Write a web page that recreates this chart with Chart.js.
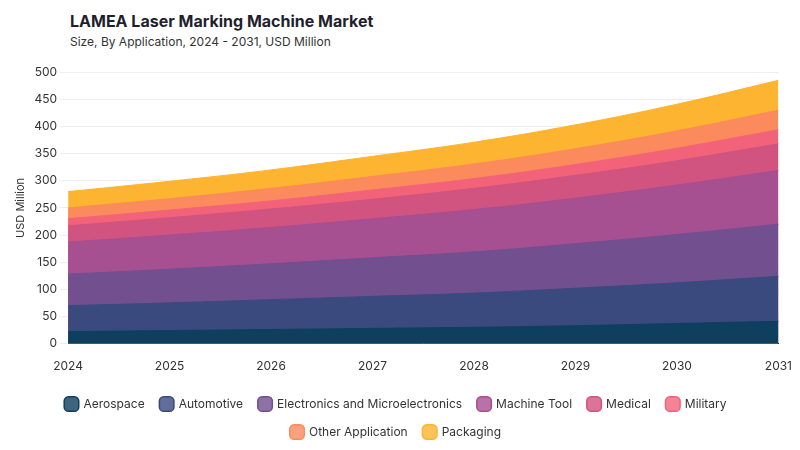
<!DOCTYPE html>
<html>
<head>
<meta charset="utf-8">
<script src="https://cdn.jsdelivr.net/npm/chart.js@4/dist/chart.umd.min.js"></script>
<style>
  body { margin: 0; background: #fff; font-family: Inter, sans-serif; }
  #wrap { position: relative; width: 800px; height: 450px; }
  h1 { position: absolute; left: 70px; top: 11px; margin: 0; font-size: 16px; font-weight: 700; color: #1f1f2e; }
  h2 { position: absolute; left: 70px; top: 34px; margin: 0; font-size: 12px; font-weight: 400; color: #333; }
  #box { position: absolute; left: 0; top: 62px; width: 800px; height: 386px; }
</style>
</head>
<body>
<div id="wrap">
  <h1>LAMEA Laser Marking Machine Market</h1>
  <h2>Size, By Application, 2024 - 2031, USD Million</h2>
  <div id="box"><canvas id="chart"></canvas></div>
</div>
<script>
const years = ["2024", "2025", "2026", "2027", "2028", "2029", "2030", "2031"];
const seriesNames = ["Aerospace", "Automotive", "Electronics and Microelectronics", "Machine Tool", "Medical", "Military", "Other Application", "Packaging"];
const aerospace   = [22, 24, 26, 28, 30, 33, 37, 41];
const automotive  = [48, 51, 55, 59, 63, 69, 75, 83];
const electronics = [58, 62, 66, 71, 76, 82, 89, 96];
const machineTool = [59, 63, 67, 72, 78, 84, 91, 99];
const medical     = [30, 32, 34, 36, 39, 42, 45, 49];
const military    = [13, 14, 15, 17, 18, 20, 23, 26];
const other       = [20, 21, 23, 25, 27, 29, 32, 36];
const packaging   = [30, 32, 34, 37, 40, 44, 49, 55];
const allValues = [aerospace, automotive, electronics, machineTool, medical, military, other, packaging];
const colors = ["#0e3f5e", "#3a4a7e", "#724f8f", "#a64f91", "#d1537f", "#f2637a", "#fb8a5c", "#fdb430"];

new Chart(document.getElementById("chart"), {
  type: "line",
  data: {
    labels: years,
    datasets: seriesNames.map((name, i) => ({
      label: name,
      data: allValues[i],
      fill: true,
      backgroundColor: colors[i],
      borderColor: colors[i],
      borderWidth: 1,
      pointRadius: 0,
      tension: 0.4
    }))
  },
  options: {
    responsive: true,
    maintainAspectRatio: false,
    animation: false,
    layout: { padding: { left: 10, right: 18, top: 4, bottom: 0 } },
    plugins: {
      legend: {
        position: "bottom",
        labels: {
          usePointStyle: true,
          pointStyle: "rectRounded",
          boxWidth: 14,
          boxHeight: 14,
          padding: 16,
          color: "#333",
          font: { family: "Inter", size: 12 },
          generateLabels: chart => chart.data.datasets.map((d, i) => ({
            text: d.label,
            fillStyle: d.backgroundColor + "cc",
            strokeStyle: d.backgroundColor,
            lineWidth: 1.5,
            pointStyle: "rectRounded",
            datasetIndex: i,
            fontColor: "#333"
          }))
        }
      },
      tooltip: { enabled: false }
    },
    scales: {
      x: {
        offset: false,
        grid: { display: false },
        border: { color: "#333" },
        ticks: { padding: 8, color: "#333", font: { family: "Inter", size: 12 } }
      },
      y: {
        stacked: true,
        min: 0,
        max: 500,
        ticks: { stepSize: 50, color: "#333", font: { family: "Inter", size: 12 } },
        grid: { color: "#eeeeee" },
        border: { display: false },
        title: { display: true, text: "USD Million", color: "#333", font: { family: "Inter", size: 11 } }
      }
    }
  }
});
</script>
</body>
</html>
